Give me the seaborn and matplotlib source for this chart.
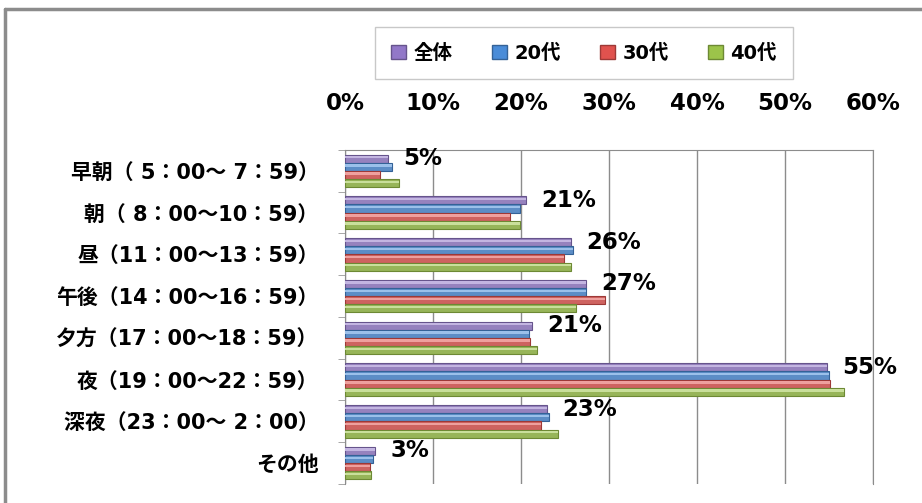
import pandas as pd
import numpy as np
import matplotlib.pyplot as plt
import seaborn as sns
from matplotlib.patches import Rectangle, Patch
from matplotlib.lines import Line2D
import matplotlib.colors as mcolors

# time slots and share per age group (%)
time_slots = ['早朝（ 5：00～ 7：59）', '朝（ 8：00～10：59）', '昼（11：00～13：59）',
              '午後（14：00～16：59）', '夕方（17：00～18：59）', '夜（19：00～22：59）',
              '深夜（23：00～ 2：00）', 'その他']
groups = ['全体', '20代', '30代', '40代']
all_ages = [4.9, 20.6, 25.7, 27.4, 21.3, 54.8, 23.0, 3.4]
age20 = [5.3, 19.9, 25.9, 27.4, 20.9, 55.0, 23.2, 3.2]
age30 = [4.0, 18.8, 24.9, 29.5, 21.0, 55.1, 22.3, 2.8]
age40 = [6.1, 19.9, 25.7, 26.3, 21.8, 56.7, 24.2, 2.9]
colors = ['#9278C8', '#4A8CD8', '#E0524E', '#9CC44A']
x_ticks = [0, 10, 20, 30, 40, 50, 60]

df = pd.DataFrame({
    '時間帯': time_slots * 4,
    '年代': np.repeat(groups, len(time_slots)),
    '割合': all_ages + age20 + age30 + age40,
})

sns.set_style('white')
plt.rcParams['font.family'] = ['DejaVu Sans', 'Noto Sans CJK JP']
plt.rcParams['text.color'] = 'black'
plt.rcParams['xtick.labelcolor'] = 'black'
plt.rcParams['ytick.labelcolor'] = 'black'

fig = plt.figure(figsize=(9.22, 5.03), dpi=100)
ax = fig.add_axes([0.3742, 0.0378, 0.5727, 0.664])

sns.barplot(data=df, y='時間帯', x='割合', hue='年代', orient='h',
            palette=colors, width=0.78, ax=ax, legend=False, zorder=3)

# fake 3D look: darker edge + light stripe on each bar
for cont, c in zip(ax.containers, colors):
    dark = tuple(v * 0.7 for v in mcolors.to_rgb(c))
    light = tuple(v + (1 - v) * 0.45 for v in mcolors.to_rgb(c))
    for p in cont:
        p.set_edgecolor(dark)
        p.set_linewidth(0.8)
        x, y, w, h = p.get_x(), p.get_y(), p.get_width(), p.get_height()
        ax.add_patch(Rectangle((x, y + h * 0.2), w, h * 0.28, color=light,
                               lw=0, zorder=4))

# value labels for 全体
for p, v in zip(ax.containers[0], all_ages):
    ax.annotate(f'{v:.0f}%', xy=(p.get_width(), p.get_y() + p.get_height() / 2),
                xytext=(11, 0), textcoords='offset points', ha='left', va='center',
                fontsize=16.5, fontweight='bold', zorder=6)

ax.set_xlim(0, 60)
ax.set_xticks(x_ticks)
ax.set_xticklabels([f'{t}%' for t in x_ticks], fontsize=16.5, fontweight='bold')
ax.xaxis.tick_top()
ax.tick_params(axis='x', length=0, pad=25)
ax.set_yticks(range(len(time_slots)))
ax.set_yticklabels(time_slots, fontsize=15, fontweight='bold')
ax.set_yticks(np.arange(-0.5, len(time_slots), 1), minor=True)
ax.tick_params(axis='y', which='major', length=0, pad=19)
ax.tick_params(axis='y', which='minor', length=5, color='#999999', left=True)
ax.set_xlabel('')
ax.set_ylabel('')
ax.grid(axis='x', color='#8c8c8c', lw=1, zorder=0)
for s in ['top', 'left', 'right']:
    ax.spines[s].set_color('#8c8c8c')
ax.spines['bottom'].set_visible(False)

handles = [Patch(facecolor=c, edgecolor=tuple(v * 0.7 for v in mcolors.to_rgb(c)))
           for c in colors]
leg = fig.legend(handles, groups, ncol=4, loc='center',
                 bbox_to_anchor=(0.396, 0.835, 0.475, 0.119), mode='expand',
                 prop={'size': 14, 'weight': 'bold'}, frameon=True, fancybox=False,
                 edgecolor='#bbbbbb', handlelength=0.75, handleheight=0.75,
                 handletextpad=0.4, borderpad=0.85, columnspacing=1.5)

# outer chart border (top and left visible)
fig.add_artist(Line2D([0.0054, 0.0054], [0, 0.982], color='#8c8c8c', lw=2.5))
fig.add_artist(Line2D([0.0054, 1], [0.982, 0.982], color='#8c8c8c', lw=2.5))

fig.savefig('out.png', dpi=100)
